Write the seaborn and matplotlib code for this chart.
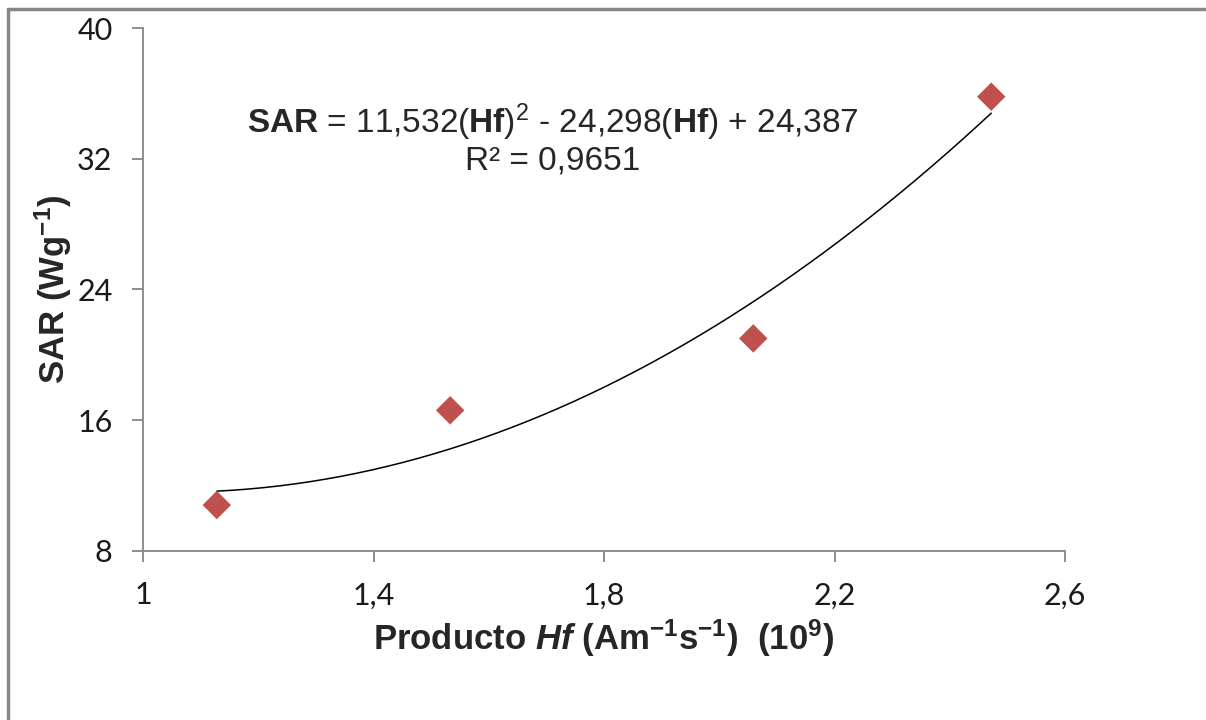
import numpy as np
import pandas as pd
from matplotlib import pyplot as plt
from matplotlib.lines import Line2D
import seaborn as sns

# data
hf = [1.128, 1.533, 2.059, 2.472]
sar = [10.8, 16.6, 21.0, 35.8]
# quadratic trendline coefficients printed on the chart
coef = [11.532, -24.298, 24.387]
x_ticks = [1.0, 1.4, 1.8, 2.2, 2.6]
x_ticklabels = ['1', '1,4', '1,8', '2,2', '2,6']
y_ticks = [8, 16, 24, 32, 40]

sns.set_style('white')
plt.rcParams['font.family'] = ['Liberation Sans', 'DejaVu Sans']
plt.rcParams['mathtext.fontset'] = 'custom'
plt.rcParams['mathtext.rm'] = 'Liberation Sans'
plt.rcParams['mathtext.bf'] = 'Liberation Sans:bold'
plt.rcParams['mathtext.it'] = 'Liberation Sans:italic'
plt.rcParams['mathtext.bfit'] = 'Liberation Sans:italic:bold'

df = pd.DataFrame({'hf': hf, 'sar': sar})
xs = np.linspace(min(hf), max(hf), 200)
trend = pd.DataFrame({'hf': xs, 'sar': np.polyval(coef, xs)})

fig = plt.figure(figsize=(12.06, 7.2), dpi=100)
ax = fig.add_axes([0.1186, 0.235, 0.7645, 0.726])

sns.lineplot(data=trend, x='hf', y='sar', color='black', linewidth=1.1, ax=ax)
sns.scatterplot(data=df, x='hf', y='sar', marker='D', s=210, color='#C0504D',
                edgecolor='none', ax=ax, zorder=3)

ax.set_xlim(1, 2.6)
ax.set_ylim(8, 40)
ax.set_xticks(x_ticks)
ax.set_xticklabels(x_ticklabels)
ax.set_yticks(y_ticks)
ax.set_yticklabels([str(v) for v in y_ticks])
for lab in ax.get_xticklabels() + ax.get_yticklabels():
    lab.set_fontfamily('Lato')
    lab.set_fontsize(22)
    lab.set_color('#1a1a1a')

for side in ['top', 'right']:
    ax.spines[side].set_visible(False)
for side in ['left', 'bottom']:
    ax.spines[side].set_color('#8C8C8C')
    ax.spines[side].set_linewidth(1.4)
ax.tick_params(axis='both', direction='out', length=8, width=1.4,
               color='#8C8C8C', pad=14, left=True, bottom=True)

ax.set_xlabel(r'Producto $\mathbfit{Hf}$ (Am$^{\mathbf{-1}}$s$^{\mathbf{-1}}$)  (10$^{\mathbf{9}}$)',
              fontsize=25, fontweight='bold', labelpad=6)
ax.set_ylabel(r'SAR (Wg$^{\mathbf{-1}}$)', fontsize=25, fontweight='bold', labelpad=2)

ax.text(1.711, 34.25,
        r'$\mathbf{SAR}$ = 11,532($\mathbf{Hf}$)$^{2}$ - 24,298($\mathbf{Hf}$) + 24,387',
        fontsize=24, ha='center', va='center')
ax.text(1.711, 31.86, 'R² = 0,9651', fontsize=24, ha='center', va='center')

# figure frame (top and left edges visible)
fig.add_artist(Line2D([0.0065, 1.0], [0.9875, 0.9875], color='#868686', linewidth=2.5,
                      transform=fig.transFigure))
fig.add_artist(Line2D([0.0065, 0.0065], [0.0, 0.9875], color='#868686', linewidth=2.5,
                      transform=fig.transFigure))

fig.savefig('out.png', dpi=100)
